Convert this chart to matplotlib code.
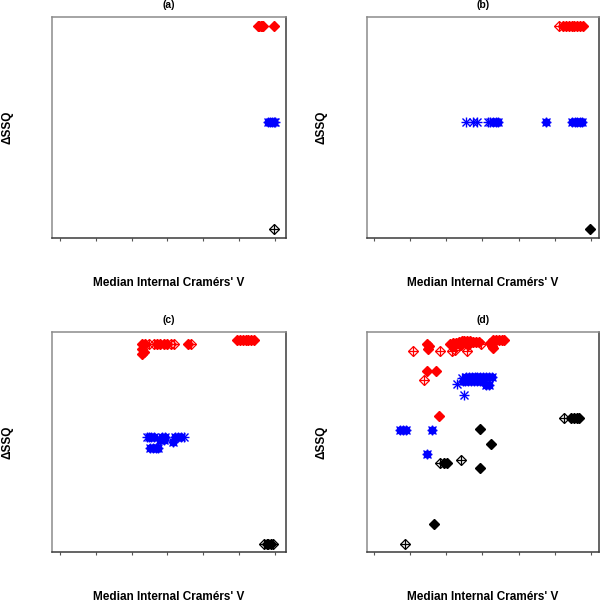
import matplotlib
matplotlib.use('Agg')
import matplotlib.pyplot as plt

# x in tick units (7 unlabeled ticks, 0..6), y as fraction of the panel height
# points that overlap heavily in the original are listed as "solid"

# panel (a)
a_red_solid_x = [5.56, 5.64, 5.98]
a_red_solid_y = [0.96, 0.96, 0.96]
a_red_open_x = [5.52, 5.6, 5.68]
a_red_open_y = [0.96, 0.96, 0.96]
a_blue_solid_x = [5.8, 5.86, 5.92, 5.98]
a_blue_solid_y = [0.525, 0.525, 0.525, 0.525]
a_blue_open_x = [6.0]
a_blue_open_y = [0.525]
a_black_open_x = [5.98]
a_black_open_y = [0.04]

# panel (b)
b_red_solid_x = [5.22, 5.3, 5.38, 5.46, 5.54, 5.62, 5.7, 5.77]
b_red_solid_y = [0.96] * 8
b_red_open_x = [5.11]
b_red_open_y = [0.96]
b_blue_solid_x = [3.3, 3.37, 3.44, 4.75, 5.47, 5.55, 5.62, 5.69, 5.75]
b_blue_solid_y = [0.525] * 9
b_blue_open_x = [2.54, 2.73, 2.85, 3.15, 3.22]
b_blue_open_y = [0.525] * 5
b_black_solid_x = [5.97]
b_black_solid_y = [0.04]

# panel (c)
c_red_solid_x = [4.94, 5.02, 5.1, 5.18, 5.26, 5.34, 5.42,
                 2.3, 2.38, 2.72, 2.8, 2.9, 3.0, 3.58,
                 2.3, 2.36, 2.28]
c_red_solid_y = [0.962] * 7 + [0.945] * 7 + [0.925, 0.91, 0.9]
c_red_open_x = [2.5, 2.62, 3.1, 3.18, 3.66]
c_red_open_y = [0.945] * 5
c_blue_solid_x = [2.48, 2.55, 2.62, 2.85, 2.92, 3.22, 3.3, 3.38,
                  2.8, 2.9, 3.15,
                  2.52, 2.6, 2.68, 2.74]
c_blue_solid_y = [0.524] * 8 + [0.51, 0.51, 0.5] + [0.474] * 4
c_blue_open_x = [2.43, 3.45]
c_blue_open_y = [0.524, 0.524]
c_black_solid_x = [5.8, 5.88]
c_black_solid_y = [0.036, 0.036]
c_black_open_x = [5.7, 5.78, 5.95]
c_black_open_y = [0.036, 0.036, 0.036]

# panel (d)
d_red_solid_x = [3.3, 3.38, 3.46, 3.54, 3.6, 3.22, 3.26, 3.3,
                 2.1, 2.18, 2.26, 2.34, 2.42, 2.5, 2.58, 2.66, 2.74, 2.82, 2.9,
                 2.2, 2.4, 2.6,
                 1.48, 1.52, 1.5,
                 1.46, 1.71, 1.8]
d_red_solid_y = [0.964, 0.964, 0.964, 0.964, 0.962, 0.95, 0.935, 0.928,
                 0.945, 0.95, 0.952, 0.955, 0.957, 0.957, 0.957, 0.957, 0.955, 0.955, 0.955,
                 0.935, 0.94, 0.94,
                 0.945, 0.935, 0.925,
                 0.823, 0.823, 0.618]
d_red_open_x = [1.08, 1.82, 2.15, 2.25, 2.56, 1.38, 2.95]
d_red_open_y = [0.914, 0.914, 0.914, 0.918, 0.914, 0.782, 0.945]
d_blue_solid_x = [2.55, 2.62, 2.7, 2.78, 2.86, 2.94, 3.02, 3.1, 3.18, 3.26,
                  2.45, 2.52, 2.6, 2.68, 2.76, 2.84, 2.92, 3.0,
                  3.1, 3.18,
                  0.72, 0.8, 0.88, 1.6, 1.46]
d_blue_solid_y = [0.797] * 10 + [0.778] * 8 + [0.76, 0.76] + [0.555] * 4 + [0.445]
d_blue_open_x = [2.3, 2.49, 2.42]
d_blue_open_y = [0.764, 0.714, 0.79]
d_black_solid_x = [5.45, 5.53, 5.6, 5.68, 2.93, 3.23, 1.95, 2.03, 2.93, 1.66]
d_black_solid_y = [0.609, 0.609, 0.609, 0.609, 0.56, 0.49, 0.405, 0.405, 0.382, 0.127]
d_black_open_x = [5.25, 2.4, 1.82, 0.86]
d_black_open_y = [0.609, 0.418, 0.405, 0.036]

panel_titles = ['(a)', '(b)', '(c)', '(d)']
tick_pos = [0, 1, 2, 3, 4, 5, 6]

W, H = 600, 602
FONT = 'Liberation Sans'


def diamond_plus(ax, xs, ys, color, solid):
    if not xs:
        return
    if solid:
        ax.plot(xs, ys, ls='none', marker='D', ms=4.9, mfc=color, mec=color,
                mew=1.0, zorder=3)
    else:
        ax.plot(xs, ys, ls='none', marker='D', ms=4.8, mfc='none', mec=color,
                mew=0.9, zorder=3)
        ax.plot(xs, ys, ls='none', marker='+', ms=6.6, mec=color,
                mew=0.9, zorder=3)


def asterisk(ax, xs, ys, solid, color='#0000ff'):
    if not xs:
        return
    if solid:
        ax.plot(xs, ys, ls='none', marker='o', ms=5.0, mfc=color, mec=color,
                zorder=3)
    ax.plot(xs, ys, ls='none', marker='+', ms=7.4, mec=color, mew=1.0, zorder=3)
    ax.plot(xs, ys, ls='none', marker='x', ms=5.4, mec=color, mew=1.0, zorder=3)


def make_axes(fig, box, xlim, title):
    # box in pixels: left, top, right, bottom
    l, t, r, b = box
    ax = fig.add_axes([l / W, (H - b) / H, (r - l) / W, (b - t) / H])
    ax.set_xlim(*xlim)
    ax.set_ylim(0, 1)
    ax.set_xticks(tick_pos)
    ax.set_yticks([])
    ax.tick_params(axis='x', direction='out', length=2.5, width=0.8,
                   color='#555555', labelbottom=False)
    for side in ['top', 'left']:
        ax.spines[side].set_color('#8c8c8c')
    for side in ['right', 'bottom']:
        ax.spines[side].set_color('#3a3a3a')
    for sp in ax.spines.values():
        sp.set_linewidth(1.1)
    h = b - t
    ax.text(0.5, 1 + 12 / h, title, transform=ax.transAxes, ha='center',
            va='center', fontsize=7.5, fontweight='bold', family=FONT)
    ax.text(0.5, -45 / h, "Median Internal Cramérs' V", transform=ax.transAxes,
            ha='center', va='center', fontsize=8.5, fontweight='bold',
            family=FONT)
    ax.text(-45 / (r - l), 0.5, '\u0394SSQ', transform=ax.transAxes,
            ha='center', va='center', rotation=90, fontsize=8.5,
            fontweight='bold', family=FONT)
    return ax


fig = plt.figure(figsize=(W / 100, H / 100), dpi=100)

ax_a = make_axes(fig, (52, 17, 286, 238), (-0.22, 6.31), panel_titles[0])
ax_b = make_axes(fig, (366.7, 17, 599, 238), (-0.2, 6.22), panel_titles[1])
ax_c = make_axes(fig, (52, 332, 286, 552), (-0.22, 6.31), panel_titles[2])
ax_d = make_axes(fig, (366.7, 332, 599, 552), (-0.2, 6.22), panel_titles[3])

diamond_plus(ax_a, a_red_solid_x, a_red_solid_y, 'red', True)
diamond_plus(ax_a, a_red_open_x, a_red_open_y, 'red', False)
asterisk(ax_a, a_blue_solid_x, a_blue_solid_y, True)
asterisk(ax_a, a_blue_open_x, a_blue_open_y, False)
diamond_plus(ax_a, a_black_open_x, a_black_open_y, 'black', False)

diamond_plus(ax_b, b_red_solid_x, b_red_solid_y, 'red', True)
diamond_plus(ax_b, b_red_open_x, b_red_open_y, 'red', False)
asterisk(ax_b, b_blue_solid_x, b_blue_solid_y, True)
asterisk(ax_b, b_blue_open_x, b_blue_open_y, False)
diamond_plus(ax_b, b_black_solid_x, b_black_solid_y, 'black', True)

diamond_plus(ax_c, c_red_solid_x, c_red_solid_y, 'red', True)
diamond_plus(ax_c, c_red_open_x, c_red_open_y, 'red', False)
asterisk(ax_c, c_blue_solid_x, c_blue_solid_y, True)
asterisk(ax_c, c_blue_open_x, c_blue_open_y, False)
diamond_plus(ax_c, c_black_solid_x, c_black_solid_y, 'black', True)
diamond_plus(ax_c, c_black_open_x, c_black_open_y, 'black', False)

diamond_plus(ax_d, d_red_solid_x, d_red_solid_y, 'red', True)
diamond_plus(ax_d, d_red_open_x, d_red_open_y, 'red', False)
asterisk(ax_d, d_blue_solid_x, d_blue_solid_y, True)
asterisk(ax_d, d_blue_open_x, d_blue_open_y, False)
diamond_plus(ax_d, d_black_solid_x, d_black_solid_y, 'black', True)
diamond_plus(ax_d, d_black_open_x, d_black_open_y, 'black', False)

fig.savefig('out.png', dpi=100)
